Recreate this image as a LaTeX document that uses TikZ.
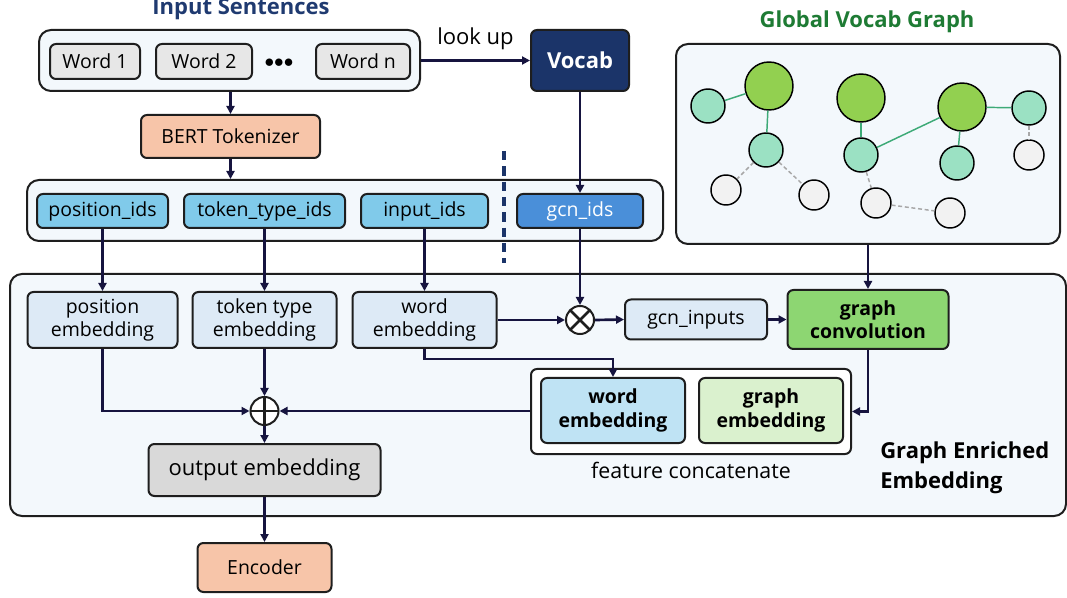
\documentclass[tikz,border=0pt]{standalone}
\usepackage{fontspec}
\setmainfont{Open Sans}
\usetikzlibrary{arrows.meta,positioning,calc}

\definecolor{arrowcol}{HTML}{16143F}
\definecolor{boxline}{HTML}{1E1E1E}
\definecolor{panelfill}{HTML}{F3F8FC}
\definecolor{wordfill}{HTML}{E7E7E7}
\definecolor{vocabfill}{HTML}{1B3469}
\definecolor{salmon}{HTML}{F7C5A9}
\definecolor{idsfill}{HTML}{80CAEA}
\definecolor{gcnfill}{HTML}{4A8FD9}
\definecolor{embfill}{HTML}{DDEAF6}
\definecolor{convfill}{HTML}{8DD672}
\definecolor{wordcatfill}{HTML}{BFE3F4}
\definecolor{graphcatfill}{HTML}{DAF1CE}
\definecolor{outfill}{HTML}{D9D9D9}
\definecolor{navytitle}{HTML}{1F3A70}
\definecolor{greentitle}{HTML}{1E7B34}
\definecolor{biggreen}{HTML}{92D050}
\definecolor{mint}{HTML}{9BE1C3}
\definecolor{greynode}{HTML}{F2F2F2}
\definecolor{gedgecol}{HTML}{3DAA77}
\definecolor{gdashcol}{HTML}{A8A8A8}

\tikzset{
  sz/.style 2 args={minimum width=#1*0.75pt, minimum height=#2*0.75pt},
  box/.style={draw=boxline, line width=1.5pt, rounded corners=4.5pt, inner sep=0pt,
    align=center, font=\fontsize{14.6}{17.5}\selectfont},
  boldbox/.style={box, font=\fontsize{14.6}{17.5}\selectfont\bfseries},
  panel/.style={draw=boxline, line width=1.5pt, rounded corners=9pt, fill=panelfill, inner sep=0pt},
  title/.style={font=\fontsize{16.5}{20}\selectfont\bfseries, inner sep=0pt},
  link/.style={draw=arrowcol, line width=2pt, ->},
  opnode/.style={circle, draw=boxline, line width=1.5pt, fill=white, minimum size=21pt, inner sep=0pt},
  bignode/.style={circle, draw=black, line width=1.1pt, fill=biggreen, minimum size=36pt, inner sep=0pt},
  midnode/.style={circle, draw=black, line width=1.1pt, fill=mint, minimum size=25.5pt, inner sep=0pt},
  smallnode/.style={circle, draw=black, line width=1.1pt, fill=greynode, minimum size=22.5pt, inner sep=0pt},
  gedge/.style={draw=gedgecol, line width=1.1pt},
  gdash/.style={draw=gdashcol, line width=1.1pt, dash pattern=on 3pt off 2pt}
}

\begin{document}
\begin{tikzpicture}[x=0.75pt, y=-0.75pt, >={Triangle[length=6pt,width=6pt]}]
\useasboundingbox (0,0) rectangle (1067,598);

% input sentences
\node[title, text=navytitle] (intitle) at (241,9) {Input Sentences};
\node[panel, sz={381}{61}] (inbox) at (229.5,60.5) {};
\node[box, fill=wordfill, sz={90}{35}] (word1) at (95,61.5) {Word 1};
\node[box, fill=wordfill, sz={96}{35}] (word2) at (204,61.5) {Word 2};
\node[inner sep=0pt, font=\fontsize{14}{17}\selectfont] (dots) at (279,63) {${\bullet}{\bullet}{\bullet}$};
\node[box, fill=wordfill, sz={94}{35}] (wordn) at (363,61.5) {Word n};

\node[boldbox, fill=vocabfill, text=white, font=\fontsize{16.5}{20}\selectfont\bfseries, sz={98}{61}] (vocab) at (580,60.5) {Vocab};
\draw[link] (inbox.east |- vocab.west) -- (vocab.west)
  node[midway, above=4pt, font=\fontsize{16.5}{20}\selectfont, text=black] (lookup) {look up};

\node[box, fill=salmon, sz={179}{43}] (bert) at (230.5,136.5) {BERT Tokenizer};
\draw[link] (bert.north |- inbox.south) -- (bert.north);

% ids
\node[panel, sz={636}{61}] (idsbox) at (345,210.5) {};
\draw[link] (bert.south) -- (bert.south |- idsbox.north);
\node[box, fill=idsfill, sz={131}{34}] (posids) at (102.5,211) {position\_ids};
\node[box, fill=idsfill, sz={161}{34}] (typeids) at (264.5,211) {token\_type\_ids};
\node[box, fill=idsfill, sz={127}{34}] (inids) at (424.5,211) {input\_ids};
\node[box, fill=gcnfill, text=white, sz={126}{34}] (gcnids) at (580,211) {gcn\_ids};
\draw[vocabfill, line width=3pt, dash pattern=on 7pt off 4.5pt] (504,151) -- (504,263);
\draw[link] (vocab.south) -- (gcnids.north);

% global vocab graph
\node[title, text=greentitle] (gtitle) at (867,22) {Global Vocab Graph};
\node[panel, sz={384}{200}] (graphbox) at (868,144) {};
\foreach \n/\x/\y in {g2/769/86, g6/861/98, g10/962/107}
  \node[bignode] (\n) at (\x,\y) {};
\foreach \n/\x/\y in {g1/708/106, g3/766/150, g7/861/155, g11/957/163, g12/1029/108}
  \node[midnode] (\n) at (\x,\y) {};
\foreach \n/\x/\y in {g4/726/190, g5/814/195, g8/876/203, g9/950/213, g13/1029/155}
  \node[smallnode] (\n) at (\x,\y) {};
\foreach \a/\b in {g1/g2, g2/g3, g6/g7, g7/g10, g10/g11, g10/g12}
  \draw[gedge] (\a) -- (\b);
\foreach \a/\b in {g3/g4, g3/g5, g7/g8, g8/g9, g12/g13}
  \draw[gdash] (\a) -- (\b);

% graph enriched embedding
\node[panel, sz={1056}{242}] (mainbox) at (538,395) {};
\node[box, fill=embfill, sz={150}{56}] (posemb) at (102.5,320) {position\\embedding};
\node[box, fill=embfill, sz={144}{56}] (typeemb) at (264.5,320) {token type\\embedding};
\node[box, fill=embfill, sz={144}{56}] (wordemb) at (424.5,320) {word\\embedding};
\draw[link] (posids.south) -- (posemb.north);
\draw[link] (typeids.south) -- (typeemb.north);
\draw[link] (inids.south) -- (wordemb.north);

\node[opnode, path picture={
  \draw[line width=2pt] (path picture bounding box.north west) -- (path picture bounding box.south east)
    (path picture bounding box.south west) -- (path picture bounding box.north east);}] (otimes) at (580,320) {};
\node[box, fill=embfill, sz={142}{40}] (gcninputs) at (696,319.5) {gcn\_inputs};
\node[boldbox, fill=convfill, sz={161}{59}] (graphconv) at (868,319.5) {graph\\convolution};
\draw[link] (graphbox.south -| graphconv.north) -- (graphconv.north);
\draw[link] (gcnids.south) -- (otimes.north);
\draw[link] (wordemb.east |- otimes.west) -- (otimes.west);
\draw[link] (otimes.east) -- (gcninputs.west);
\draw[link] (gcninputs.east) -- (gcninputs.east -| graphconv.west);

\node[draw=boxline, line width=1.5pt, rounded corners=4.5pt, fill=white, inner sep=0pt, sz={320}{85}] (catbox) at (691,411.5) {};
\node[boldbox, fill=wordcatfill, sz={144}{65}] (wordcat) at (613,410.5) {word\\embedding};
\node[boldbox, fill=graphcatfill, sz={144}{65}] (graphcat) at (771,410.5) {graph\\embedding};
\node[below=5pt of catbox, inner sep=0pt, font=\fontsize{16}{19}\selectfont] (catlabel) {feature concatenate};
\draw[link] (wordemb.south) -- ++(0,10) -| (wordcat.north);
\draw[link] (graphconv.south) |- (catbox.east);

\node[opnode, path picture={
  \draw[line width=2.2pt] (path picture bounding box.north) -- (path picture bounding box.south)
    (path picture bounding box.west) -- (path picture bounding box.east);}] (oplus) at (264.5,411) {};
\draw[link] (typeemb.south) -- (oplus.north);
\draw[link] (posemb.south) |- (oplus.west);
\draw[link] (catbox.west |- oplus.east) -- (oplus.east);

\node[box, fill=outfill, font=\fontsize{16.5}{20}\selectfont, sz={232}{52}] (outemb) at (264.5,470) {output embedding};
\draw[link] (oplus.south) -- (outemb.north);
\node[anchor=west, align=left, inner sep=0pt, font=\fontsize{16.5}{22.5}\selectfont\bfseries] (gelabel) at (880,468) {Graph Enriched\\Embedding};

\node[box, fill=salmon, sz={134}{49}] (encoder) at (264.5,567.5) {Encoder};
\draw[link] (outemb.south) -- (encoder.north);
\end{tikzpicture}
\end{document}
